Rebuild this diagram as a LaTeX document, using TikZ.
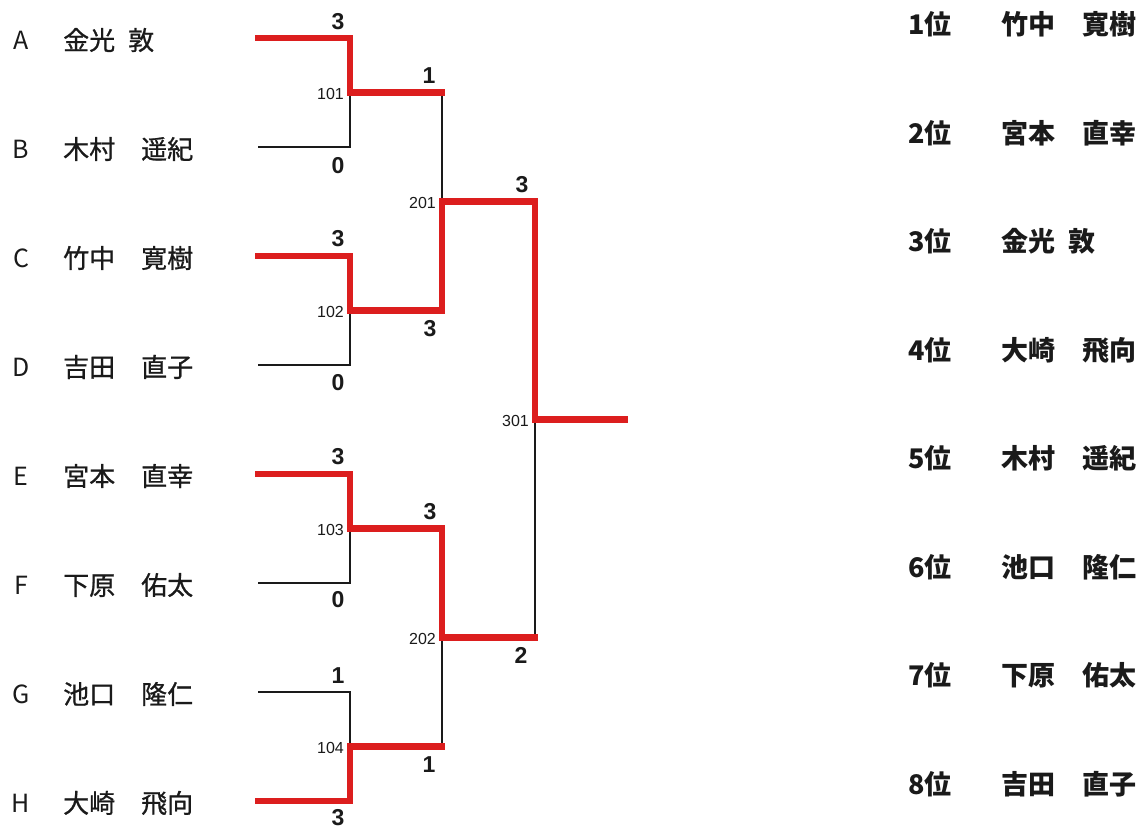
\documentclass[tikz,border=0pt]{standalone}
\usepackage{fontspec}
\usepackage{tikz}
\usetikzlibrary{calc}
\newfontfamily\jpfont{Noto Sans CJK JP}
\newfontfamily\jpmid{Noto Sans CJK JP}[FakeBold=0.8]
\newfontfamily\numfont{Liberation Sans}
\definecolor{ink}{HTML}{1A1A1A}
\definecolor{winred}{HTML}{DC1E1E}
\tikzset{
  lose/.style={draw=ink, line width=1.6pt},
  win/.style={draw=winred, line width=6.5pt, line cap=rect, line join=miter},
  letr/.style={font=\jpfont\fontsize{25}{25}\selectfont, inner sep=0pt},
  plname/.style={font=\jpmid\fontsize{26}{26}\selectfont, inner sep=0pt, anchor=west},
  score/.style={font=\numfont\bfseries\fontsize{23}{23}\selectfont, inner sep=0pt},
  matchno/.style={font=\numfont\fontsize{16}{16}\selectfont, inner sep=0pt, anchor=east},
  rank/.style={font=\jpfont\bfseries\fontsize{27}{27}\selectfont, inner sep=0pt, anchor=west},
  every node/.style={text=ink}
}

\begin{document}
\begin{tikzpicture}[x=1pt,y=-1pt]
  \useasboundingbox (0,0) rectangle (1143,833);

  % entrants
  \coordinate (eA) at (258,38);
  \coordinate (eB) at (258,147);
  \coordinate (eC) at (258,256);
  \coordinate (eD) at (258,365);
  \coordinate (eE) at (258,474);
  \coordinate (eF) at (258,583);
  \coordinate (eG) at (258,692);
  \coordinate (eH) at (258,801);

  % match junctions
  \coordinate (j101) at (350,92.5);
  \coordinate (j102) at (350,310.5);
  \coordinate (j103) at (350,528.5);
  \coordinate (j104) at (350,746.5);
  \coordinate (j201) at (442,201.5);
  \coordinate (j202) at (442,637.5);
  \coordinate (j301) at (535,419.5);
  \coordinate (fin) at (625,419.5);

  \node[letr] (lA) at ($(eA)+(-237,2)$) {A};
  \node[letr] (lB) at ($(eB)+(-237,2)$) {B};
  \node[letr] (lC) at ($(eC)+(-237,2)$) {C};
  \node[letr] (lD) at ($(eD)+(-237,2)$) {D};
  \node[letr] (lE) at ($(eE)+(-237,2)$) {E};
  \node[letr] (lF) at ($(eF)+(-237,2)$) {F};
  \node[letr] (lG) at ($(eG)+(-237,2)$) {G};
  \node[letr] (lH) at ($(eH)+(-237,2)$) {H};

  \node[plname] (pA) at ($(eA)+(-195,2)$) {金光\hspace{.5em}敦};
  \node[plname] (pB) at ($(eB)+(-195,2)$) {木村　遥紀};
  \node[plname] (pC) at ($(eC)+(-195,2)$) {竹中　寛樹};
  \node[plname] (pD) at ($(eD)+(-195,2)$) {吉田　直子};
  \node[plname] (pE) at ($(eE)+(-195,2)$) {宮本　直幸};
  \node[plname] (pF) at ($(eF)+(-195,2)$) {下原　佑太};
  \node[plname] (pG) at ($(eG)+(-195,2)$) {池口　隆仁};
  \node[plname] (pH) at ($(eH)+(-195,2)$) {大崎　飛向};

  % bracket
  \draw[lose] (eA) -| (j101);  \draw[lose] (eB) -| (j101);
  \draw[lose] (eC) -| (j102);  \draw[lose] (eD) -| (j102);
  \draw[lose] (eE) -| (j103);  \draw[lose] (eF) -| (j103);
  \draw[lose] (eG) -| (j104);  \draw[lose] (eH) -| (j104);
  \draw[lose] (j101) -| (j201);  \draw[lose] (j102) -| (j201);
  \draw[lose] (j103) -| (j202);  \draw[lose] (j104) -| (j202);
  \draw[lose] (j201) -| (j301);  \draw[lose] (j202) -| (j301);
  \draw[lose] (j301) -- (fin);

  % winners
  \draw[win] (eA) -| (j101) -- (j101 -| j201);
  \draw[win] (eC) -| (j102) -| (j201) -| (j301) -- (fin);
  \draw[win] (eE) -| (j103) -| (j202) -- (j202 -| j301);
  \draw[win] (eH) -| (j104) -- (j104 -| j202);

  \node[matchno] (n101) at ($(j101)+(-6,1.5)$) {101};
  \node[matchno] (n102) at ($(j102)+(-6,1.5)$) {102};
  \node[matchno] (n103) at ($(j103)+(-6,1.5)$) {103};
  \node[matchno] (n104) at ($(j104)+(-6,1.5)$) {104};
  \node[matchno] (n201) at ($(j201)+(-6,1.5)$) {201};
  \node[matchno] (n202) at ($(j202)+(-6,1.5)$) {202};
  \node[matchno] (n301) at ($(j301)+(-6,1.5)$) {301};

  % scores
  \node[score] (sA) at ($(eA -| j101)+(-12,-16)$) {3};
  \node[score] (sB) at ($(eB -| j101)+(-12,19)$) {0};
  \node[score] (sC) at ($(eC -| j102)+(-12,-17)$) {3};
  \node[score] (sD) at ($(eD -| j102)+(-12,18)$) {0};
  \node[score] (sE) at ($(eE -| j103)+(-12,-17)$) {3};
  \node[score] (sF) at ($(eF -| j103)+(-12,17)$) {0};
  \node[score] (sG) at ($(eG -| j104)+(-12,-16)$) {1};
  \node[score] (sH) at ($(eH -| j104)+(-12,17)$) {3};
  \node[score] (s101) at ($(j101 -| j201)+(-13,-17)$) {1};
  \node[score] (s102) at ($(j102 -| j201)+(-12,18)$) {3};
  \node[score] (s103) at ($(j103 -| j202)+(-12,-17)$) {3};
  \node[score] (s104) at ($(j104 -| j202)+(-13,18)$) {1};
  \node[score] (s201) at ($(j201 -| j301)+(-13,-17)$) {3};
  \node[score] (s202) at ($(j202 -| j301)+(-14,18)$) {2};

  % final standing
  \node[rank] (r1) at (908,24) {1位};   \node[rank] (q1) at (1001,24) {竹中　寛樹};
  \node[rank] (r2) at (908,133) {2位};  \node[rank] (q2) at (1001,133) {宮本　直幸};
  \node[rank] (r3) at (908,241) {3位};  \node[rank] (q3) at (1001,241) {金光\hspace{.5em}敦};
  \node[rank] (r4) at (908,350) {4位};  \node[rank] (q4) at (1001,350) {大崎　飛向};
  \node[rank] (r5) at (908,458) {5位};  \node[rank] (q5) at (1001,458) {木村　遥紀};
  \node[rank] (r6) at (908,567) {6位};  \node[rank] (q6) at (1001,567) {池口　隆仁};
  \node[rank] (r7) at (908,675) {7位};  \node[rank] (q7) at (1001,675) {下原　佑太};
  \node[rank] (r8) at (908,784) {8位};  \node[rank] (q8) at (1001,784) {吉田　直子};
\end{tikzpicture}
\end{document}
